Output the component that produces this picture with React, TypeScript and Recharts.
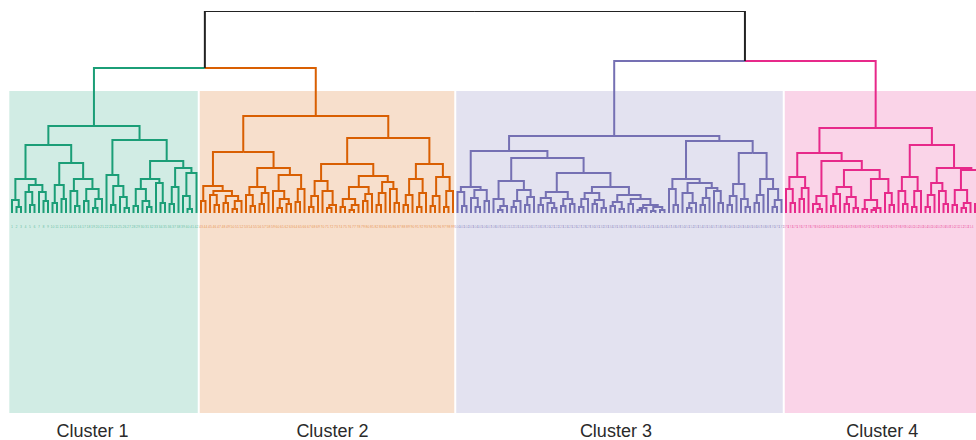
import { ComposedChart, Line, ReferenceArea, Scatter, XAxis, YAxis } from 'recharts';

// Cluster trees in a compact nested form: "." is a leaf, "(a,b)h" merges a and b at height h.
const cluster1Tree =
  '((((.,(.,.)6)13,((.,(.,.)8)21,(.,(.,.)12)21)28)34,(((.,.)10,(.,.)14)28,((.,(.,.)7)22,((.,.)12,((.,.)5,.)14)24)34)50)68,' +
  '((.,((.,.)8,(.,(.,.)5)16)27)38,((((.,.)7,(.,(.,.)6)12)24,(.,(.,.)10)30)34,(((.,.)9,.)26,((.,(.,.)4)17,.)40)45)52)73)87';
const cluster2Tree =
  '((((.,.)12,((.,(.,.)8)18,((.,.)10,((.,.)4,.)12)17)22)27,(((.,(.,.)7)18,((.,.)9,.)20)26,((.,((.,.)5,(.,.)9)14)22,((.,.)11,.)24)38)45)61,' +
  '(((((.,.)6,.)17,(.,((.,.)5,.)8)22)32,((((.,.)6,((.,.)3,.)8)14,((.,.)12,.)19)26,(((.,.)8,.)20,(.,(.,.)10)24)31)37)49,' +
  '((((.,.)8,.)18,((.,.)6,.)20)34,(((.,.)7,.)17,((.,.)6,.)22)36)49)75)97';
const cluster3Tree =
  '((((.,(.,.)7)21,((.,(.,.)6)15,(.,.)12)23)26,(((.,((.,.)3,.)7)14,(((.,.)6,.)12,((.,.)8,.)16)23)32,' +
  '((((.,.)8,(.,(.,.)5)10)15,((.,.)7,(.,.)9)14)21,((((.,.)6,.)14,((.,.)9,(.,.)5)13)20,(((.,.)7,(.,.)4)11,((.,.)9,(((.,.)3,.)5,((.,.)2,(.,.)3)6)8)14)18)26)40)55)62,' +
  '(((.,(.,.)8)24,((.,((.,.)5,.)10)20,(((.,.)8,.)15,(.,(.,.)10)22)25)30)34,((((.,.)8,.)17,(.,(.,.)6)14)29,(((.,.)10,.)18,(.,((.,.)6,.)13)24)34)60)72)77';
const cluster4Tree =
  '((((.,(.,.)10)24,((.,.)14,.)25)36,(((.,(.,.)4)9,.)17,((((.,.)7,.)19,((.,.)9,(.,.)5)16)26,(((.,.)4,((.,.)3,.)5)13,(.,(.,.)8)20)34)43)52)60,' +
  '(((.,(.,.)9)22,((.,.)6,.)22)36,((((.,.)6,.)18,(.,(.,.)9)22)30,(((.,.)8,((.,.)5,.)10)23,((.,.)9,(.,.)14)25)43)45)68)85';

const clusterTrees = [cluster1Tree, cluster2Tree, cluster3Tree, cluster4Tree];
const clusterNames = ['Cluster 1', 'Cluster 2', 'Cluster 3', 'Cluster 4'];
const clusterColors = ['#1b9e77', '#d95f02', '#7570b3', '#e7298a'];
const clusterLabelAt = [17.9, 71.2, 134.2, 193.4];
// heights where cluster 1+2, cluster 3+4, and everything join
const topMerges = [145, 152, 202];

const LEAF_PITCH = 4.5;
const FIRST_LEAF_PX = 12;
const WIDTH = 976;
const HEIGHT = 440;

type TreeNode = { x: number; h: number; kids?: [TreeNode, TreeNode] };
type Pt = { x: number; h: number | null };

let leafCounter = 0;

function parseTree(src: string): TreeNode {
  let pos = 0;
  const walk = (): TreeNode => {
    if (src[pos] === '.') {
      pos++;
      return { x: leafCounter++, h: 0 };
    }
    pos++; // (
    const a = walk();
    pos++; // ,
    const b = walk();
    pos++; // )
    let num = '';
    while (pos < src.length && src[pos] >= '0' && src[pos] <= '9') num += src[pos++];
    return { x: (a.x + b.x) / 2, h: Number(num), kids: [a, b] };
  };
  return walk();
}

function elbow(child: TreeNode, parent: TreeNode, out: Pt[]) {
  out.push({ x: child.x, h: child.h }, { x: child.x, h: parent.h }, { x: parent.x, h: parent.h }, { x: parent.x, h: null });
}

function collect(node: TreeNode, out: Pt[]) {
  if (!node.kids) return;
  for (const k of node.kids) {
    elbow(k, node, out);
    collect(k, out);
  }
}

leafCounter = 0;
const firstLeaf: number[] = [];
const roots = clusterTrees.map((t) => {
  firstLeaf.push(leafCounter);
  return parseTree(t);
});
const leafTotal = leafCounter;

const clusterSegs = roots.map((r) => {
  const out: Pt[] = [];
  collect(r, out);
  return out;
});

const join12: TreeNode = { x: (roots[0].x + roots[1].x) / 2, h: topMerges[0], kids: [roots[0], roots[1]] };
const join34: TreeNode = { x: (roots[2].x + roots[3].x) / 2, h: topMerges[1], kids: [roots[2], roots[3]] };
const top: TreeNode = { x: (join12.x + join34.x) / 2, h: topMerges[2], kids: [join12, join34] };
elbow(roots[0], join12, clusterSegs[0]);
elbow(roots[1], join12, clusterSegs[1]);
elbow(roots[2], join34, clusterSegs[2]);
elbow(roots[3], join34, clusterSegs[3]);
const topSegs: Pt[] = [];
elbow(join12, top, topSegs);
elbow(join34, top, topSegs);

const xMin = -FIRST_LEAF_PX / LEAF_PITCH;
const xMax = (WIDTH - FIRST_LEAF_PX) / LEAF_PITCH;

const bands = roots.map((_, c) => {
  const start = firstLeaf[c];
  const end = c < 3 ? firstLeaf[c + 1] - 1 : leafTotal - 1;
  return { x1: start - 0.5 + (c === 0 ? -0.1 : 0.22), x2: end + 0.5 - 0.22 };
});

const leafLabels = roots.map((_, c) => {
  const start = firstLeaf[c];
  const end = c < 3 ? firstLeaf[c + 1] : leafTotal;
  const pts: { x: number; h: number; label: string }[] = [];
  for (let i = start; i < end && i < xMax - 0.6; i++) pts.push({ x: i, h: -15, label: String(i + 1) });
  return pts;
});

function makeLabelShape(color: string) {
  return (props: any) => (
    <text x={props.cx} y={props.cy} fontSize={3.5} textAnchor="middle" fill={color} fillOpacity={0.6}>
      {props.payload.label}
    </text>
  );
}

export default function App() {
  return (
    <div style={{ position: 'absolute', left: 0, top: 0, width: WIDTH, height: HEIGHT, background: '#fff', fontFamily: '"Liberation Sans", Arial, sans-serif' }}>
      <ComposedChart width={WIDTH} height={HEIGHT} margin={{ top: 11, right: 0, bottom: 0, left: 0 }}>
        <XAxis
          type="number"
          dataKey="x"
          domain={[xMin, xMax]}
          allowDataOverflow
          ticks={clusterLabelAt}
          interval={0}
          tickFormatter={(_v: number, i: number) => clusterNames[i]}
          axisLine={false}
          tickLine={false}
          tickMargin={5}
          height={27}
          tick={{ fill: '#2a2a2a', fontSize: 18 }}
        />
        <YAxis hide type="number" dataKey="h" domain={[-200, 202]} allowDataOverflow />
        {bands.map((b, c) => (
          <ReferenceArea
            key={clusterNames[c]}
            x1={b.x1}
            x2={b.x2}
            y1={-200}
            y2={122}
            fill={clusterColors[c]}
            fillOpacity={0.2}
            stroke="none"
            ifOverflow="hidden"
          />
        ))}
        {leafLabels.map((pts, c) => (
          <Scatter key={'lbl' + c} data={pts} dataKey="h" shape={makeLabelShape(clusterColors[c])} isAnimationActive={false} />
        ))}
        {clusterSegs.map((segs, c) => (
          <Line
            key={'seg' + c}
            data={segs}
            dataKey="h"
            type="linear"
            stroke={clusterColors[c]}
            strokeWidth={2}
            dot={false}
            activeDot={false}
            connectNulls={false}
            isAnimationActive={false}
          />
        ))}
        <Line
          data={topSegs}
          dataKey="h"
          type="linear"
          stroke="#222"
          strokeWidth={2}
          dot={false}
          activeDot={false}
          connectNulls={false}
          isAnimationActive={false}
        />
      </ComposedChart>
    </div>
  );
}
